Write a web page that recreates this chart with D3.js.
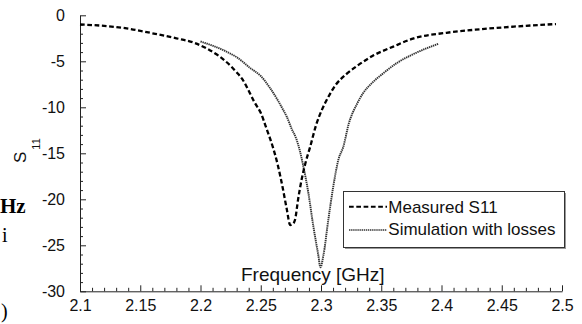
<!DOCTYPE html>
<html>
<head>
<meta charset="utf-8">
<script src="https://cdn.jsdelivr.net/npm/d3@7"></script>
<style>
  html, body { margin: 0; padding: 0; background: #fff; }
  svg { display: block; }
  .tick text { font-family: "Liberation Sans", Arial, sans-serif; }
</style>
</head>
<body>
<svg id="chart" width="582" height="324"></svg>
<script>
// Measured reflection coefficient (GHz, dB)
const measuredFreq = [2.100, 2.120, 2.140, 2.160, 2.180, 2.195, 2.205, 2.215, 2.225, 2.230, 2.235, 2.240, 2.245, 2.250, 2.255, 2.260, 2.264, 2.268, 2.2715, 2.2745, 2.2765, 2.2785, 2.281, 2.284, 2.287, 2.291, 2.296, 2.301, 2.306, 2.312, 2.321, 2.330, 2.343, 2.360, 2.377, 2.404, 2.432, 2.460, 2.495];
const measuredS11  = [-1.00, -1.15, -1.45, -1.95, -2.50, -3.00, -3.60, -4.40, -5.50, -6.20, -7.00, -8.20, -9.50, -10.6, -12.4, -14.3, -16.2, -18.6, -21.0, -22.8, -22.7, -22.2, -20.0, -17.8, -16.1, -14.3, -11.9, -10.2, -8.9, -7.6, -6.4, -5.5, -4.4, -3.4, -2.5, -1.9, -1.52, -1.23, -0.95];

// Simulated reflection coefficient including losses
const simFreq = [2.200, 2.210, 2.220, 2.2245, 2.230, 2.241, 2.250, 2.2577, 2.264, 2.2687, 2.2715, 2.2755, 2.2797, 2.2826, 2.285, 2.2895, 2.2936, 2.2978, 2.2995, 2.302, 2.3061, 2.3102, 2.3144, 2.3185, 2.323, 2.330, 2.335, 2.342, 2.3517, 2.3628, 2.3766, 2.3874, 2.3974];
const simS11  = [-2.85, -3.30, -3.85, -4.15, -4.55, -5.70, -6.60, -7.90, -9.20, -10.3, -11.0, -12.3, -13.5, -14.8, -16.2, -19.3, -22.9, -26.1, -27.4, -26.1, -22.2, -18.6, -15.7, -14.3, -11.8, -9.6, -8.45, -7.4, -6.3, -5.2, -4.22, -3.6, -3.1];

// Axis ticks
const xMajorTicks = [2.1, 2.15, 2.2, 2.25, 2.3, 2.35, 2.4, 2.45, 2.5];
const xTickLabels = ["2.1", "2.15", "2.2", "2.25", "2.3", "2.35", "2.4", "2.45", "2.5"];
const yMajorTicks = [0, -5, -10, -15, -20, -25, -30];
const yTickLabels = ["0", "-5", "-10", "-15", "-20", "-25", "-30"];

const legendLabels = ["Measured S11", "Simulation with losses"];

const svg = d3.select("#chart");
const FONT = '"Liberation Sans", Arial, sans-serif';
const SERIF = '"Liberation Serif", "Times New Roman", serif';
const axisColor = "#222";
const simStyle = { stroke: "#333", width: 1.9, dash: "1.4,0.7" };
const measStyle = { stroke: "#000", width: 2.3, dash: "4.7,2.6" };

const x = d3.scaleLinear().domain([2.1, 2.5]).range([80, 562]);
const y = d3.scaleLinear().domain([-30, 0]).range([291.3, 15.3]);

const xMinor = d3.range(0, 41).map(i => 2.1 + i * 0.01).filter(v => !xMajorTicks.some(m => Math.abs(m - v) < 1e-6));
const yMinor = d3.range(0, 31).map(i => -i).filter(v => v % 5 !== 0);

// Minor ticks (inward, no labels)
svg.append("g")
  .attr("transform", `translate(0,${y(-30)})`)
  .call(d3.axisBottom(x).tickValues(xMinor).tickSize(-3.5).tickFormat(""))
  .call(g => g.select(".domain").remove())
  .call(g => g.selectAll("line").attr("stroke", axisColor));

svg.append("g")
  .attr("transform", `translate(${x(2.1)},0)`)
  .call(d3.axisLeft(y).tickValues(yMinor).tickSize(-3).tickFormat(""))
  .call(g => g.select(".domain").remove())
  .call(g => g.selectAll("line").attr("stroke", axisColor));

// Major ticks with labels
svg.append("g")
  .attr("transform", `translate(0,${y(-30)})`)
  .call(d3.axisBottom(x).tickValues(xMajorTicks).tickSizeInner(-6).tickSizeOuter(0).tickPadding(8)
    .tickFormat((d, i) => xTickLabels[i]))
  .call(g => g.select(".domain").attr("stroke", axisColor))
  .call(g => g.selectAll("line").attr("stroke", axisColor))
  .call(g => g.selectAll("text").attr("font-size", 16).attr("font-family", FONT).attr("fill", "#111"));

svg.append("g")
  .attr("transform", `translate(${x(2.1)},0)`)
  .call(d3.axisLeft(y).tickValues(yMajorTicks).tickSizeInner(-6).tickSizeOuter(0).tickPadding(15)
    .tickFormat((d, i) => yTickLabels[i]))
  .call(g => g.select(".domain").attr("stroke", axisColor))
  .call(g => g.selectAll("line").attr("stroke", axisColor))
  .call(g => g.selectAll("text").attr("font-size", 16).attr("font-family", FONT).attr("fill", "#111"));

// Curves
const line = d3.line().x(d => x(d[0])).y(d => y(d[1])).curve(d3.curveMonotoneX);

svg.append("path")
  .datum(simFreq.map((f, i) => [f, simS11[i]]))
  .attr("d", line)
  .attr("fill", "none")
  .attr("stroke", simStyle.stroke)
  .attr("stroke-width", simStyle.width)
  .attr("stroke-dasharray", simStyle.dash);

svg.append("path")
  .datum(measuredFreq.map((f, i) => [f, measuredS11[i]]))
  .attr("d", line)
  .attr("fill", "none")
  .attr("stroke", measStyle.stroke)
  .attr("stroke-width", measStyle.width)
  .attr("stroke-dasharray", measStyle.dash);

// Axis titles
svg.append("text")
  .attr("x", 241).attr("y", 281)
  .attr("font-family", FONT).attr("font-size", 19).attr("fill", "#111")
  .text("Frequency [GHz]");

const yTitle = svg.append("text")
  .attr("transform", "translate(26,163) rotate(-90)")
  .attr("font-family", FONT).attr("font-size", 17).attr("fill", "#111");
yTitle.append("tspan").text("S");
yTitle.append("tspan").attr("dy", 14).attr("dx", 2).attr("font-size", 11).text("11");

// Legend
const lg = svg.append("g");
lg.append("rect").attr("x", 345).attr("y", 193).attr("width", 221).attr("height", 56).attr("fill", "#999");
lg.append("rect").attr("x", 343.5).attr("y", 191.5).attr("width", 221).attr("height", 56)
  .attr("fill", "#fff").attr("stroke", "#333").attr("stroke-width", 1);
lg.append("line").attr("x1", 349).attr("x2", 387).attr("y1", 206.7).attr("y2", 206.7)
  .attr("stroke", measStyle.stroke).attr("stroke-width", 2).attr("stroke-dasharray", measStyle.dash);
lg.append("line").attr("x1", 349).attr("x2", 387).attr("y1", 230).attr("y2", 230)
  .attr("stroke", simStyle.stroke).attr("stroke-width", 1.6).attr("stroke-dasharray", simStyle.dash);
lg.selectAll("text.leg").data(legendLabels).join("text")
  .attr("class", "leg")
  .attr("x", 388.3).attr("y", (d, i) => 213.3 + i * 22)
  .attr("font-family", FONT).attr("font-size", 17).attr("fill", "#111")
  .text(d => d);

// Surrounding page text at the left edge
svg.append("text").attr("x", 0).attr("y", 213)
  .attr("font-family", SERIF).attr("font-weight", "bold").attr("font-size", 21).attr("fill", "#000")
  .text("Hz");
svg.append("text").attr("x", 2).attr("y", 242)
  .attr("font-family", SERIF).attr("font-size", 20).attr("fill", "#000")
  .text("i");
svg.append("text").attr("x", 1).attr("y", 318)
  .attr("font-family", SERIF).attr("font-size", 20).attr("fill", "#000")
  .text(")");
</script>
</body>
</html>
